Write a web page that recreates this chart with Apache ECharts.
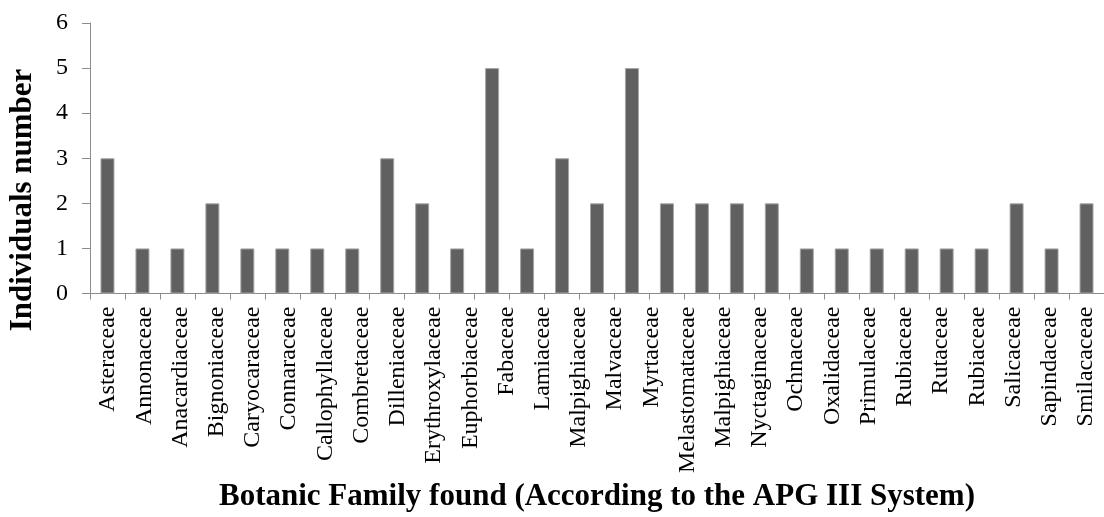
<!DOCTYPE html>
<html>
<head>
<meta charset="utf-8">
<script src="https://cdn.jsdelivr.net/npm/echarts@6/dist/echarts.min.js"></script>
<style>
    html, body { margin: 0; padding: 0; background: #fff; }
    #famChart { width: 1104px; height: 517px; }
</style>
</head>
<body>
<div id="famChart"></div>
<script>
    // 科名标签（图上只有28个标签）
    var familyLabels = ['Asteraceae', 'Annonaceae', 'Anacardiaceae', 'Bignoniaceae', 'Caryocaraceae',
        'Connaraceae', 'Callophyllaceae', 'Combretaceae', 'Dilleniaceae', 'Erythroxylaceae',
        'Euphorbiaceae', 'Fabaceae', 'Lamiaceae', 'Malpighiaceae', 'Malvaceae', 'Myrtaceae',
        'Melastomataceae', 'Malpighiaceae', 'Nyctaginaceae', 'Ochnaceae', 'Oxalidaceae',
        'Primulaceae', 'Rubiaceae', 'Rutaceae', 'Rubiaceae', 'Salicaceae', 'Sapindaceae', 'Smilacaceae'];
    // 柱子数值（29根）
    var individuals = [3, 1, 1, 2, 1, 1, 1, 1, 3, 2, 1, 5, 1, 3, 2, 5, 2, 2, 2, 2, 1, 1, 1, 1, 1, 1, 2, 1, 2];
    var yTicks = [0, 1, 2, 3, 4, 5, 6];

    var barSlots = individuals.map(function (v, i) { return 'b' + (i + 1); });
    var serif = '"Liberation Serif", "DejaVu Serif", serif';

    var myChart = echarts.init(document.getElementById('famChart'));
    var option = {
        animation: false,
        grid: { left: 90, right: -7, top: 23, bottom: 223 },
        // 纵轴标题（原图偏下，不在绘图区正中）
        graphic: [
            {
                type: 'text',
                x: 23,
                y: 200,
                rotation: Math.PI / 2,
                style: {
                    text: 'Individuals number',
                    fill: '#000',
                    font: 'bold 31px ' + serif,
                    align: 'center',
                    verticalAlign: 'middle'
                }
            }
        ],
        xAxis: [
            {
                type: 'category',
                data: barSlots,
                position: 'bottom',
                axisLine: { lineStyle: { color: '#8c8c8c', width: 1 } },
                axisTick: { show: true, length: 6, lineStyle: { color: '#8c8c8c' } },
                axisLabel: { show: false }
            },
            {
                type: 'category',
                data: familyLabels,
                position: 'bottom',
                axisLine: { show: false },
                axisTick: { show: false },
                axisLabel: {
                    rotate: 90,
                    margin: 13,
                    interval: 0,
                    color: '#000',
                    fontFamily: serif,
                    fontSize: 24
                },
                name: 'Botanic Family found (According to the APG III System)',
                nameLocation: 'middle',
                nameGap: 186,
                nameTextStyle: { color: '#000', fontFamily: serif, fontSize: 31, fontWeight: 'bold' }
            }
        ],
        yAxis: {
            type: 'value',
            min: yTicks[0],
            max: yTicks[yTicks.length - 1],
            interval: 1,
            axisLine: { show: true, lineStyle: { color: '#8c8c8c', width: 1 } },
            axisTick: { show: true, length: 8, lineStyle: { color: '#8c8c8c' } },
            splitLine: { show: false },
            axisLabel: { margin: 22, color: '#000', fontFamily: serif, fontSize: 24 }
        },
        series: [
            {
                type: 'bar',
                xAxisIndex: 0,
                data: individuals,
                barWidth: 14,
                itemStyle: { color: '#606060', borderColor: '#a6a6a6', borderWidth: 1 }
            }
        ]
    };
    myChart.setOption(option);
</script>
</body>
</html>
